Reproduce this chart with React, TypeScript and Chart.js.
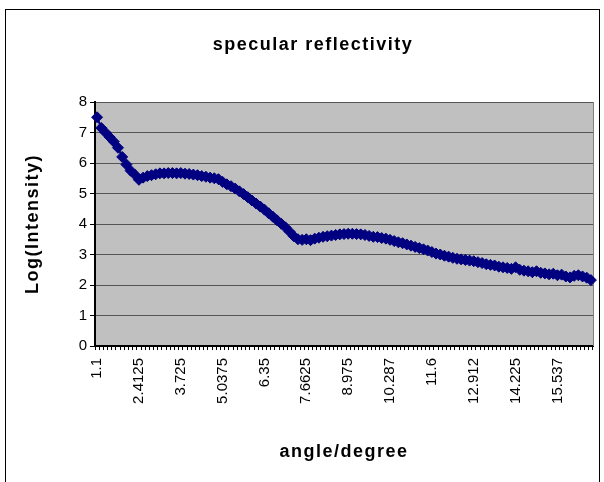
import React, { useEffect, useRef } from 'react';
import { Chart, registerables } from 'chart.js';

Chart.register(...registerables);

const chartTitle = 'specular reflectivity';
const xTitle = 'angle/degree';
const yTitle = 'Log(Intensity)';

const angles: string[] = [
  '1.1', '1.23125', '1.3625', '1.49375', '1.625', '1.75625', '1.8875', '2.01875', '2.15', '2.28125',
  '2.4125', '2.54375', '2.675', '2.80625', '2.9375', '3.06875', '3.2', '3.33125', '3.4625', '3.59375',
  '3.725', '3.85625', '3.9875', '4.11875', '4.25', '4.38125', '4.5125', '4.64375', '4.775', '4.90625',
  '5.0375', '5.16875', '5.3', '5.43125', '5.5625', '5.69375', '5.825', '5.95625', '6.0875', '6.21875',
  '6.35', '6.48125', '6.6125', '6.74375', '6.875', '7.00625', '7.1375', '7.26875', '7.4', '7.53125',
  '7.6625', '7.79375', '7.925', '8.05625', '8.1875', '8.31875', '8.45', '8.58125', '8.7125', '8.84375',
  '8.975', '9.10625', '9.2375', '9.36875', '9.5', '9.63125', '9.7625', '9.89375', '10.025', '10.156',
  '10.287', '10.419', '10.55', '10.681', '10.812', '10.944', '11.075', '11.206', '11.337', '11.469',
  '11.6', '11.731', '11.862', '11.994', '12.125', '12.256', '12.387', '12.519', '12.65', '12.781',
  '12.912', '13.044', '13.175', '13.306', '13.437', '13.569', '13.7', '13.831', '13.962', '14.094',
  '14.225', '14.356', '14.487', '14.619', '14.75', '14.881', '15.012', '15.144', '15.275', '15.406',
  '15.537', '15.669', '15.8', '15.931', '16.062', '16.194', '16.325', '16.456', '16.587'
];

const logIntensity: number[] = [
  7.5, 7.15, 7.0, 6.85, 6.7, 6.5, 6.2, 5.95, 5.75, 5.62,
  5.45, 5.52, 5.57, 5.6, 5.63, 5.66, 5.66, 5.67, 5.67, 5.66,
  5.67, 5.65, 5.64, 5.62, 5.6, 5.57, 5.55, 5.52, 5.5, 5.47,
  5.38, 5.3, 5.24, 5.16, 5.07, 4.98, 4.88, 4.77, 4.67, 4.57,
  4.47, 4.35, 4.24, 4.12, 4.01, 3.89, 3.75, 3.6, 3.5, 3.48,
  3.5, 3.47, 3.52, 3.55, 3.58, 3.6, 3.62, 3.64, 3.66, 3.67,
  3.68, 3.68, 3.67, 3.66, 3.64, 3.61, 3.58, 3.57, 3.54, 3.52,
  3.48, 3.44, 3.4, 3.37, 3.33, 3.29, 3.25, 3.21, 3.17, 3.13,
  3.08, 3.03, 3.0, 2.96, 2.93, 2.89, 2.86, 2.84, 2.82, 2.8,
  2.78, 2.75, 2.72, 2.68, 2.66, 2.64, 2.6, 2.58, 2.56, 2.53,
  2.58, 2.5, 2.47, 2.45, 2.42, 2.45, 2.4, 2.38, 2.35, 2.37,
  2.32, 2.34, 2.28, 2.25, 2.3, 2.32, 2.28, 2.24, 2.16
];

const yMin = 0;
const yMax = 8;
const yStep = 1;
const labelEvery = 10;

const FONT = 'Arial, "Liberation Sans", Helvetica, sans-serif';
const TITLE_SPACING = '1.5px';

const plotBackground = {
  id: 'plotBackground',
  beforeDraw(chart: any) {
    const { ctx, chartArea } = chart;
    // widen the letter spacing of the bold titles (Excel-like rendering)
    const wrap = (obj: any, method: string) => {
      if (!obj || obj['__wrapped_' + method]) return;
      const orig = obj[method];
      obj[method] = function (...args: any[]) {
        const c = chart.ctx as any;
        const prev = c.letterSpacing;
        c.letterSpacing = TITLE_SPACING;
        try {
          return orig.apply(this, args);
        } finally {
          c.letterSpacing = prev === undefined ? '0px' : prev;
        }
      };
      obj['__wrapped_' + method] = true;
    };
    wrap(chart.titleBlock, 'draw');
    wrap(chart.scales.x, 'drawTitle');
    wrap(chart.scales.y, 'drawTitle');

    if (!chartArea) return;
    const { left, top, right, bottom } = chartArea;
    ctx.save();
    ctx.fillStyle = '#C0C0C0';
    ctx.fillRect(left, top, right - left, bottom - top);
    ctx.restore();
  },
  beforeDatasetsDraw(chart: any) {
    const { ctx, chartArea } = chart;
    const { top, right, bottom } = chartArea;
    ctx.save();
    ctx.strokeStyle = '#808080';
    ctx.lineWidth = 1;
    ctx.beginPath();
    ctx.moveTo(Math.round(right) + 0.5, top);
    ctx.lineTo(Math.round(right) + 0.5, bottom);
    ctx.stroke();
    ctx.restore();
  },
};

export default function App() {
  const canvasRef = useRef<HTMLCanvasElement | null>(null);

  useEffect(() => {
    if (!canvasRef.current) return;
    const chart = new Chart(canvasRef.current, {
      type: 'line',
      data: {
        labels: angles,
        datasets: [
          {
            data: logIntensity,
            borderColor: '#000080',
            backgroundColor: '#000080',
            borderWidth: 2,
            pointStyle: 'rectRot',
            pointRadius: 5.5,
            pointBorderWidth: 1,
            pointBackgroundColor: '#000080',
            pointBorderColor: '#000080',
            tension: 0,
            clip: false as any,
          },
        ],
      },
      options: {
        responsive: false,
        animation: false,
        layout: { padding: { left: 22, right: 0, top: 0, bottom: 0 } },
        plugins: {
          legend: { display: false },
          tooltip: { enabled: false },
          title: {
            display: true,
            text: chartTitle,
            color: '#000',
            font: { family: FONT, size: 18, weight: 'bold', lineHeight: 1.2 },
            padding: { top: 34.2, bottom: 46.2 },
          },
        },
        scales: {
          x: {
            type: 'category',
            offset: true,
            afterFit(scale: any) {
              scale.height = 136;
              scale.paddingLeft = 0;
              scale.paddingRight = 11;
            },
            grid: {
              display: true,
              offset: true,
              drawOnChartArea: false,
              drawTicks: true,
              tickLength: 4,
              color: '#000',
              tickColor: '#000',
            },
            border: { display: true, color: '#000', width: 2 },
            ticks: {
              autoSkip: false,
              minRotation: 90,
              maxRotation: 90,
              padding: 8,
              color: '#000',
              font: { family: FONT, size: 15 },
              callback: (_v: any, i: number) => (i % labelEvery === 0 ? angles[i] : ''),
            },
            title: {
              display: true,
              text: xTitle,
              color: '#000',
              font: { family: FONT, size: 18, weight: 'bold', lineHeight: 1.2 },
              padding: { top: 0, bottom: 19 },
            },
          },
          y: {
            min: yMin,
            max: yMax,
            afterFit(scale: any) {
              scale.width = 73;
              scale.paddingTop = 0;
              scale.paddingBottom = 0;
            },
            grid: {
              color: '#555',
              tickColor: '#000',
              tickLength: 5,
              drawTicks: true,
            },
            border: { display: true, color: '#000', width: 2 },
            ticks: {
              stepSize: yStep,
              padding: 3,
              color: '#000',
              font: { family: FONT, size: 15 },
            },
            title: {
              display: true,
              text: yTitle,
              color: '#000',
              font: { family: FONT, size: 18, weight: 'bold', lineHeight: 1.2 },
              padding: { top: 0, bottom: 0 },
            },
          },
        },
      },
      plugins: [plotBackground],
    });
    return () => chart.destroy();
  }, []);

  return (
    <div style={{ position: 'fixed', left: 0, top: 0, width: 604, height: 482, background: '#fff', overflow: 'hidden' }}>
      <div
        style={{
          position: 'absolute',
          left: 5,
          top: 9,
          width: 595,
          height: 520,
          border: '1px solid #000',
          boxSizing: 'border-box',
        }}
      />
      <canvas ref={canvasRef} width={604} height={482} style={{ position: 'absolute', left: 0, top: 0 }} />
    </div>
  );
}
